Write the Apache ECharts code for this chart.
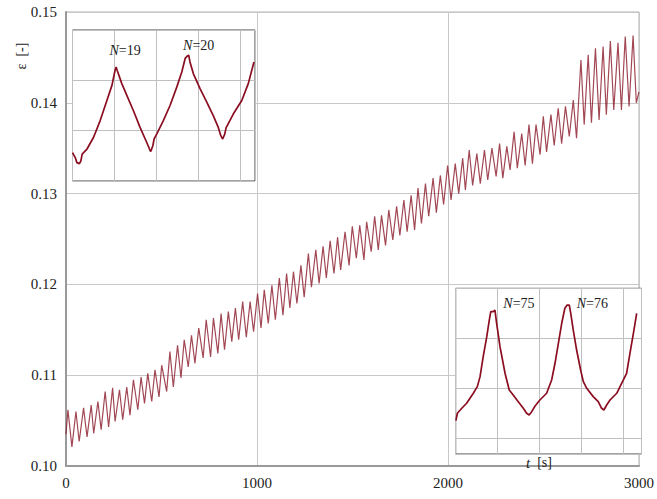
<!DOCTYPE html>
<html>
<head>
<meta charset="utf-8">
<script src="https://cdn.jsdelivr.net/npm/echarts@6/dist/echarts.min.js"></script>
<style>
html,body{margin:0;padding:0;background:#fff;}
#chart{width:657px;height:499px;}
</style>
</head>
<body>
<div id="chart"></div>
<script>
// ---- main series: cycle peaks and troughs ----
const startPoint = [0, 0.1035];
const endPoint = [3000, 0.1412];
const peakT = [10,52,92,132,167,205,244,280,318,353,393,428,466,501,544,584,619,657,695,734,772,812,850,887,925,964,1003,1038,1078,1117,1155,1191,1230,1269,1308,1346,1383,1422,1461,1499,1538,1574,1616,1652,1690,1731,1769,1807,1843,1882,1922,1960,1998,2038,2077,2111,2151,2191,2230,2270,2308,2346,2386,2424,2461,2499,2539,2577,2615,2656,2696,2734,2772,2812,2850,2890,2928,2969];
const peakV = [0.1062,0.1060,0.1064,0.1067,0.1071,0.1082,0.1086,0.1084,0.1087,0.1095,0.1098,0.1102,0.1106,0.1111,0.1126,0.1133,0.1139,0.1144,0.1152,0.1161,0.1163,0.1168,0.1170,0.1174,0.1181,0.1181,0.1190,0.1194,0.1199,0.1207,0.1212,0.1214,0.1221,0.1234,0.1238,0.1242,0.1248,0.1252,0.1258,0.1264,0.1265,0.1269,0.1275,0.1276,0.1282,0.1286,0.1293,0.1298,0.1306,0.1311,0.1317,0.1320,0.1331,0.1333,0.1339,0.1348,0.1344,0.1348,0.1350,0.1355,0.1352,0.1368,0.1366,0.1376,0.1376,0.1385,0.1387,0.1394,0.1396,0.1403,0.1447,0.1453,0.1460,0.1462,0.1468,0.1466,0.1473,0.1474];
const troughT = [31,69,110,145,184,223,257,297,335,376,411,449,487,527,562,602,640,675,718,757,795,830,868,904,944,982,1021,1059,1096,1136,1172,1209,1247,1285,1325,1363,1403,1438,1482,1520,1560,1598,1635,1673,1711,1748,1786,1825,1861,1899,1939,1977,2016,2056,2091,2129,2169,2208,2252,2287,2325,2363,2404,2442,2482,2516,2556,2595,2635,2673,2713,2751,2791,2829,2868,2908,2948,2986];
const troughV = [0.1021,0.1027,0.1032,0.1036,0.1040,0.1043,0.1049,0.1051,0.1056,0.1062,0.1069,0.1071,0.1076,0.1082,0.1087,0.1097,0.1109,0.1113,0.1119,0.1120,0.1124,0.1128,0.1137,0.1139,0.1142,0.1148,0.1152,0.1157,0.1161,0.1166,0.1174,0.1179,0.1186,0.1197,0.1201,0.1207,0.1212,0.1216,0.1221,0.1229,0.1227,0.1236,0.1238,0.1243,0.1249,0.1254,0.1258,0.1260,0.1267,0.1275,0.1279,0.1288,0.1293,0.1300,0.1304,0.1309,0.1311,0.1315,0.1319,0.1317,0.1326,0.1328,0.1331,0.1333,0.1343,0.1346,0.1353,0.1355,0.1363,0.1361,0.1376,0.1378,0.1381,0.1387,0.1392,0.1392,0.1396,0.1400];

// ---- inset 1 (cycles N=19, N=20) ----
const inset1T = [680.0,681.3,682.1,683.3,684.0,684.6,686.9,690.0,693.2,696.4,698.8,700.3,700.8,701.4,703.5,705.9,709.0,712.2,715.4,716.7,717.3,718.3,718.9,720.2,723.3,726.5,729.7,732.1,733.7,734.8,735.4,736.0,737.6,740.8,744.0,747.1,749.5,750.7,751.6,752.6,753.2,756.7,760.7,763.8,766.5];
const inset1V = [0.11113,0.11093,0.11073,0.11069,0.11080,0.11107,0.11127,0.11173,0.11240,0.11320,0.11380,0.11440,0.11453,0.11437,0.11387,0.11340,0.11280,0.11213,0.11153,0.11127,0.11117,0.11140,0.11167,0.11187,0.11240,0.11300,0.11373,0.11433,0.11487,0.11497,0.11500,0.11473,0.11427,0.11367,0.11313,0.11260,0.11213,0.11180,0.11167,0.11187,0.11211,0.11267,0.11320,0.11387,0.11473];
const inset1Labels = [{t:700.8, v:0.11453, n:'19'}, {t:735.4, v:0.11500, n:'20'}];

// ---- inset 2 (cycles N=75, N=76) ----
const inset2T = [2840.1,2840.8,2842.9,2845.2,2848.4,2850.3,2851.6,2853.1,2854.8,2856.0,2856.7,2857.9,2858.7,2859.5,2861.1,2863.5,2865.5,2867.4,2869.8,2872.2,2873.8,2875.0,2876.2,2877.8,2880.1,2883.3,2885.7,2887.3,2888.9,2890.5,2892.0,2893.1,2894.1,2894.8,2896.0,2897.6,2899.5,2900.8,2902.4,2905.5,2907.9,2909.5,2910.6,2911.9,2913.5,2916.7,2919.8,2921.4,2923.0,2924.9,2926.2];
const inset2V = [0.13941,0.14000,0.14040,0.14080,0.14160,0.14213,0.14293,0.14453,0.14613,0.14746,0.14813,0.14813,0.14826,0.14720,0.14533,0.14320,0.14186,0.14146,0.14093,0.14040,0.14000,0.13986,0.14013,0.14058,0.14106,0.14160,0.14266,0.14400,0.14560,0.14720,0.14840,0.14866,0.14866,0.14800,0.14666,0.14506,0.14346,0.14253,0.14200,0.14133,0.14093,0.14040,0.14026,0.14066,0.14106,0.14160,0.14266,0.14320,0.14480,0.14666,0.14800];
const inset2Labels = [{t:2858.7, v:0.14826, n:'75'}, {t:2894.1, v:0.14866, n:'76'}];

// ---- axis ticks ----
const xTicks = [0, 1000, 2000, 3000];
const yTicks = [0.10, 0.11, 0.12, 0.13, 0.14, 0.15];

// ---- build data ----
const mainData = [startPoint];
const extrema = [];
peakT.forEach((t, i) => extrema.push([t, peakV[i]]));
troughT.forEach((t, i) => extrema.push([t, troughV[i]]));
extrema.sort((a, b) => a[0] - b[0]);
extrema.forEach(p => mainData.push(p));
mainData.push(endPoint);

const inset1Data = inset1T.map((t, i) => [t, inset1V[i]]);
// inset 2 uses an inverted axis (grid lines counted from the top), values negated
const inset2Data = inset2T.map((t, i) => [t, -inset2V[i]]);

const serif = 'Liberation Serif';
const nLabelRich = {
  i: {fontFamily: serif, fontStyle: 'italic', fontSize: 14, color: '#222'},
  r: {fontFamily: serif, fontSize: 14, color: '#222'}
};

const chart = echarts.init(document.getElementById('chart'), null, {renderer: 'svg'});
const gridLineStyle = {color: '#c8c8c8', width: 1};

chart.setOption({
  animation: false,
  backgroundColor: '#fff',
  grid: [
    {left: 66, right: 16, top: 12, bottom: 33, show: true, borderColor: '#b0b0b0', borderWidth: 1, z: 0},
    {left: 72.5, top: 30, width: 182.5, height: 151, show: true, backgroundColor: '#fff', borderColor: '#444', borderWidth: 1, z: 10},
    {left: 455.7, top: 288.3, width: 185.8, height: 165.7, show: true, backgroundColor: '#fff', borderColor: '#444', borderWidth: 1, z: 10}
  ],
  xAxis: [
    {gridIndex: 0, type: 'value', min: xTicks[0], max: xTicks[xTicks.length - 1], interval: 1000,
      axisLine: {show: true, lineStyle: {color: '#9a9a9a', width: 2}},
      axisTick: {show: false},
      splitLine: {show: true, lineStyle: gridLineStyle},
      axisLabel: {fontFamily: serif, fontSize: 15, color: '#222', margin: 9,
        formatter: v => String(v)}},
    {gridIndex: 1, type: 'value', min: 680, max: 767, interval: 20, z: 11,
      axisLine: {show: false}, axisTick: {show: false}, axisLabel: {show: false},
      splitLine: {show: true, lineStyle: {color: '#c0c0c0', width: 1}}},
    {gridIndex: 2, type: 'value', min: 2840, max: 2928.5, interval: 20, z: 11,
      axisLine: {show: false}, axisTick: {show: false}, axisLabel: {show: false},
      splitLine: {show: true, lineStyle: {color: '#c0c0c0', width: 1}}}
  ],
  yAxis: [
    {gridIndex: 0, type: 'value', min: yTicks[0], max: yTicks[yTicks.length - 1], interval: 0.01,
      axisLine: {show: true, lineStyle: {color: '#9a9a9a', width: 2}},
      axisTick: {show: false},
      splitLine: {show: true, lineStyle: gridLineStyle},
      axisLabel: {fontFamily: serif, fontSize: 15, color: '#222', margin: 9,
        formatter: v => v.toFixed(2)}},
    {gridIndex: 1, type: 'value', min: 0.110, max: 0.116, interval: 0.002, z: 11,
      axisLine: {show: false}, axisTick: {show: false}, axisLabel: {show: false},
      splitLine: {show: true, lineStyle: {color: '#c0c0c0', width: 1}}},
    {gridIndex: 2, type: 'value', inverse: true, min: -0.150, max: -0.13674, interval: 0.004, z: 11,
      axisLine: {show: false}, axisTick: {show: false}, axisLabel: {show: false},
      splitLine: {show: true, lineStyle: {color: '#c0c0c0', width: 1}}}
  ],
  series: [
    {type: 'line', xAxisIndex: 0, yAxisIndex: 0, data: mainData, showSymbol: false, z: 2,
      lineStyle: {color: '#8b1a2b', width: 1.2, opacity: 0.8}},
    {type: 'line', xAxisIndex: 1, yAxisIndex: 1, data: inset1Data, showSymbol: false, z: 12,
      lineStyle: {color: '#8b0d20', width: 1.7}, clip: true,
      markPoint: {symbol: 'circle', symbolSize: 0, z: 13,
        data: inset1Labels.map((d, i) => ({coord: [d.t, d.v],
          label: {show: true, formatter: '{i|N}{r|=' + d.n + '}', rich: nLabelRich,
            offset: i === 0 ? [9, -16] : [10, -10]}}))}},
    {type: 'line', xAxisIndex: 2, yAxisIndex: 2, data: inset2Data, showSymbol: false, z: 12,
      lineStyle: {color: '#8b0d20', width: 1.7}, clip: true,
      markPoint: {symbol: 'circle', symbolSize: 0, z: 13,
        data: inset2Labels.map((d, i) => ({coord: [d.t, -d.v],
          label: {show: true, formatter: '{i|N}{r|=' + d.n + '}', rich: nLabelRich,
            offset: i === 0 ? [24, -7] : [23, -2]}}))}}
  ],
  graphic: [
    {type: 'text', left: 526, top: 455, z: 20,
      style: {text: '{i|t}{r|  [s]}', rich: {
        i: {fontFamily: serif, fontStyle: 'italic', fontSize: 15, fill: '#222'},
        r: {fontFamily: serif, fontSize: 14, fill: '#222'}}}},
    {type: 'text', x: 21, y: 56, rotation: Math.PI / 2, z: 20,
      style: {text: 'ε  [-]', fontFamily: serif, fontSize: 14, fill: '#222', align: 'center', verticalAlign: 'middle'}}
  ]
});
</script>
</body>
</html>
